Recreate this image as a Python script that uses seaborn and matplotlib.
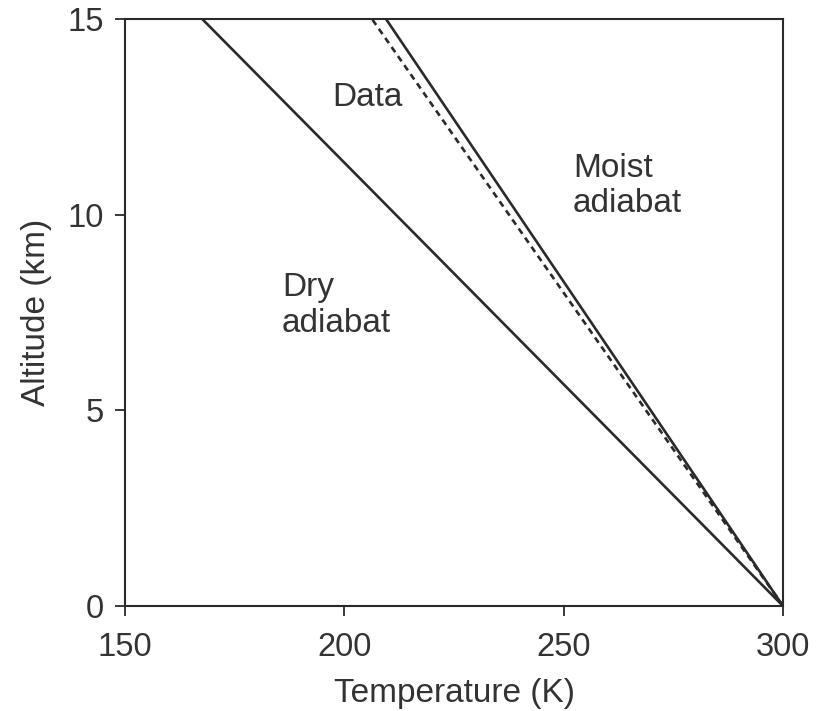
import pandas as pd
import matplotlib
matplotlib.use("Agg")
import matplotlib.pyplot as plt
import seaborn as sns

# profile end points (altitude km -> temperature K)
altitude = [0, 15]
dry_temp = [300, 167.6]
moist_temp = [300, 209.5]
data_temp = [300, 206.3]

sns.set_style("white")
plt.rcParams["font.family"] = ["Liberation Sans", "DejaVu Sans"]

ink = "#2a2a2a"
txt = "#333333"

df = pd.DataFrame(
    {
        "altitude": altitude * 3,
        "temperature": dry_temp + moist_temp + data_temp,
        "profile": ["Dry"] * 2 + ["Moist"] * 2 + ["Data"] * 2,
    }
)

fig = plt.figure(figsize=(8.25, 7.11), dpi=100)
ax = fig.add_axes([125 / 825, 1 - 606 / 711, 658 / 825, 587 / 711])

for name, style in [("Dry", "-"), ("Moist", "-"), ("Data", (0, (2.4, 1.8)))]:
    sub = df[df["profile"] == name]
    sns.lineplot(
        data=sub,
        x="temperature",
        y="altitude",
        sort=False,
        estimator=None,
        color=ink,
        linewidth=1.9,
        linestyle=style,
        ax=ax,
    )

ax.set_xlim(150, 300)
ax.set_ylim(0, 15)
ax.set_xticks([150, 200, 250, 300])
ax.set_yticks([0, 5, 10, 15])

fs = 24
ax.tick_params(
    axis="both", direction="out", length=7, width=1.3, color=ink,
    labelsize=23.5, labelcolor=txt, pad=8,
    bottom=True, left=True,
)
ax.tick_params(axis="x", pad=11.5)
for s in ax.spines.values():
    s.set_color(ink)
    s.set_linewidth(1.5)

ax.set_xlabel("Temperature (K)", fontsize=fs, color=txt, labelpad=11)
ax.set_ylabel("Altitude (km)", fontsize=fs, color=txt, labelpad=11)

ax.text(205.2, 13.0, "Data", fontsize=fs, color=txt, ha="center", va="center")
ax.text(252.1, 10.73, "Moist\nadiabat", fontsize=fs, color=txt,
        ha="left", va="center", linespacing=1.2)
ax.text(185.8, 7.68, "Dry\nadiabat", fontsize=fs, color=txt,
        ha="left", va="center", linespacing=1.2)

fig.savefig("out.png", dpi=100)
